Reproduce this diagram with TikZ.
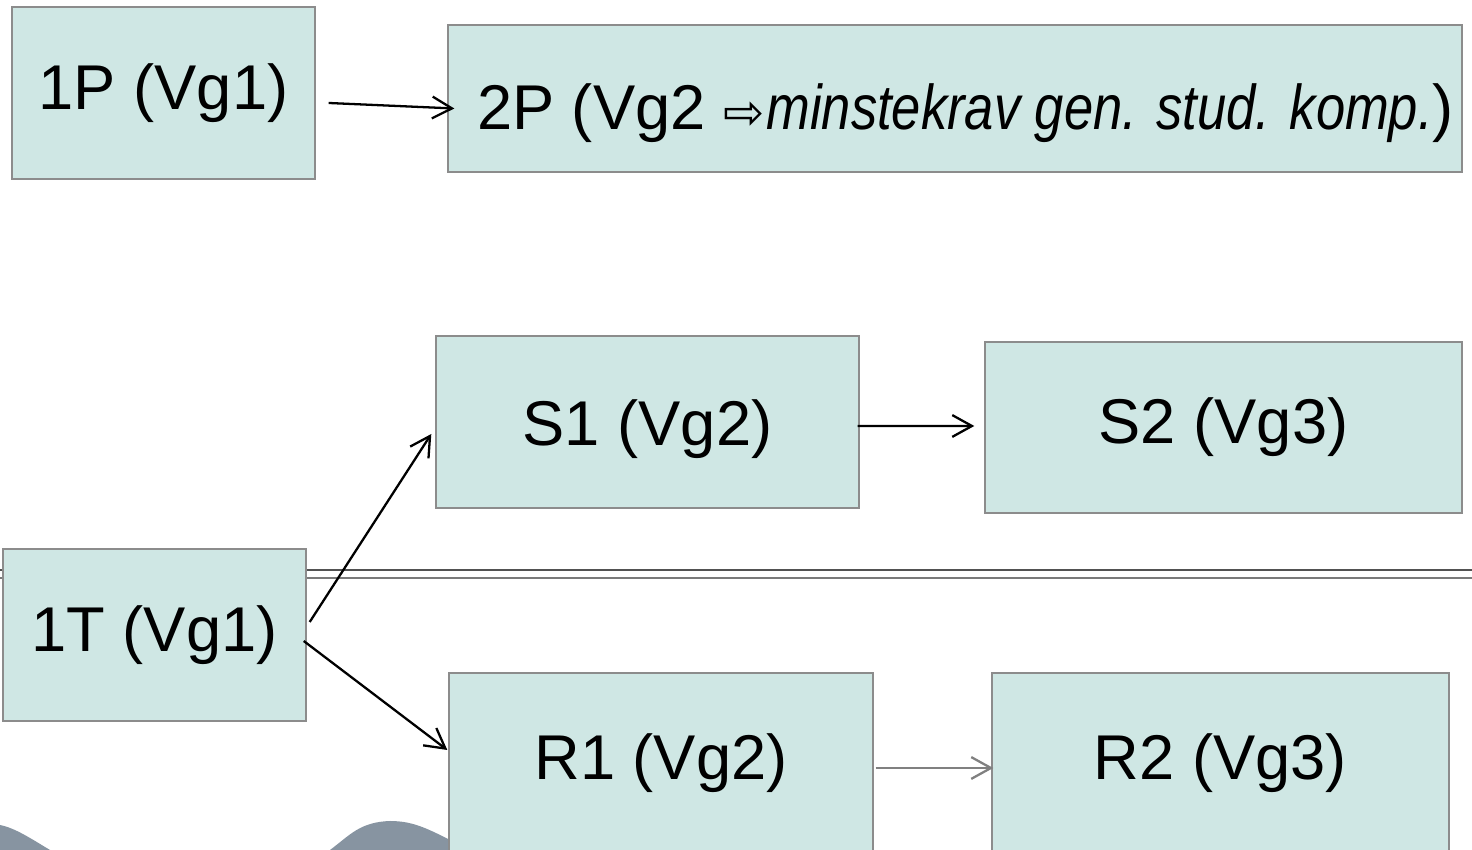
\documentclass[tikz,border=0pt]{standalone}
\usepackage{fontspec}
\setmainfont{Liberation Sans}
\newfontfamily\narrowit[FakeStretch=0.83]{Liberation Sans Italic}
\newfontfamily\symfont{DejaVu Sans}
\usepackage{tikz}
\usetikzlibrary{arrows,arrows.meta}

\definecolor{boxfill}{HTML}{CFE7E4}
\definecolor{boxline}{HTML}{8C8C8C}
\definecolor{hill}{HTML}{8794A1}

\tikzset{
    blok/.style={draw=boxline, fill=boxfill, line width=0.4pt, inner sep=0pt,
                 font=\fontsize{18}{22}\selectfont},
    pil/.style={->, >={Straight Barb[length=5.6pt,width=6.2pt]}, line width=0.65pt}
}

\begin{document}
\begin{tikzpicture}
    \useasboundingbox (0,0) rectangle (14.72,-8.5);
    \clip (0,0) rectangle (14.72,-8.5);

    % Grey hills at the bottom
    \fill[hill] (0,-8.25) .. controls (0.15,-8.28) and (0.3,-8.38) .. (0.5,-8.5) -- (0,-8.5) -- cycle;
    \fill[hill] (3.3,-8.5) .. controls (3.5,-8.35) and (3.6,-8.22) .. (3.9,-8.21)
        .. controls (4.15,-8.21) and (4.3,-8.3) .. (4.6,-8.45) -- (4.6,-8.5) -- cycle;

    % Double line across the page
    \draw[line width=0.45pt, black!68] (0,-5.70) -- (14.72,-5.70);
    \draw[line width=0.45pt, black!52] (0,-5.78) -- (14.72,-5.78);

    % Define the boxes
    \node[blok, minimum width=3.03cm, minimum height=1.72cm] (P1) at (1.635,-0.93) {1P (Vg1)};
    \node[blok, minimum width=10.14cm, minimum height=1.47cm, text height=21.9pt, text depth=4pt] (P2) at (9.55,-0.985)
        {\hspace*{0.21cm}2P (Vg2 {\symfont\fontsize{14}{16}\selectfont ⇨}\hspace{0.02cm}{\narrowit minstekrav gen. stud. komp.})};
    \node[blok, minimum width=4.23cm, minimum height=1.72cm, text height=17.1pt, text depth=4pt] (S1) at (6.475,-4.22) {S1 (Vg2)};
    \node[blok, minimum width=4.77cm, minimum height=1.71cm] (S2) at (12.235,-4.275) {S2 (Vg3)};
    \node[blok, minimum width=3.03cm, minimum height=1.72cm] (T1) at (1.545,-6.35) {1T (Vg1)};
    \node[blok, minimum width=4.24cm, minimum height=1.80cm] (R1) at (6.61,-7.63) {R1 (Vg2)};
    \node[blok, minimum width=4.57cm, minimum height=1.80cm] (R2) at (12.205,-7.63) {R2 (Vg3)};

    % Connect the boxes
    \draw[pil] ([xshift=0.13cm,yshift=-0.1cm]P1.east) -- ([xshift=0.07cm,yshift=-0.1cm]P2.west);
    \draw[pil] ([xshift=-0.02cm,yshift=-0.04cm]S1.east) -- ([xshift=-0.1cm,yshift=0.015cm]S2.west);
    \draw[pil] ([xshift=0.03cm,yshift=0.13cm]T1.east) -- ([xshift=-0.04cm,yshift=-0.12cm]S1.west);
    \draw[pil] ([xshift=-0.03cm,yshift=-0.06cm]T1.east) -- ([xshift=-0.01cm,yshift=0.13cm]R1.west);
    \draw[pil, black!50] ([xshift=0.02cm,yshift=-0.05cm]R1.east) -- ([xshift=0.02cm,yshift=-0.05cm]R2.west);
\end{tikzpicture}
\end{document}
